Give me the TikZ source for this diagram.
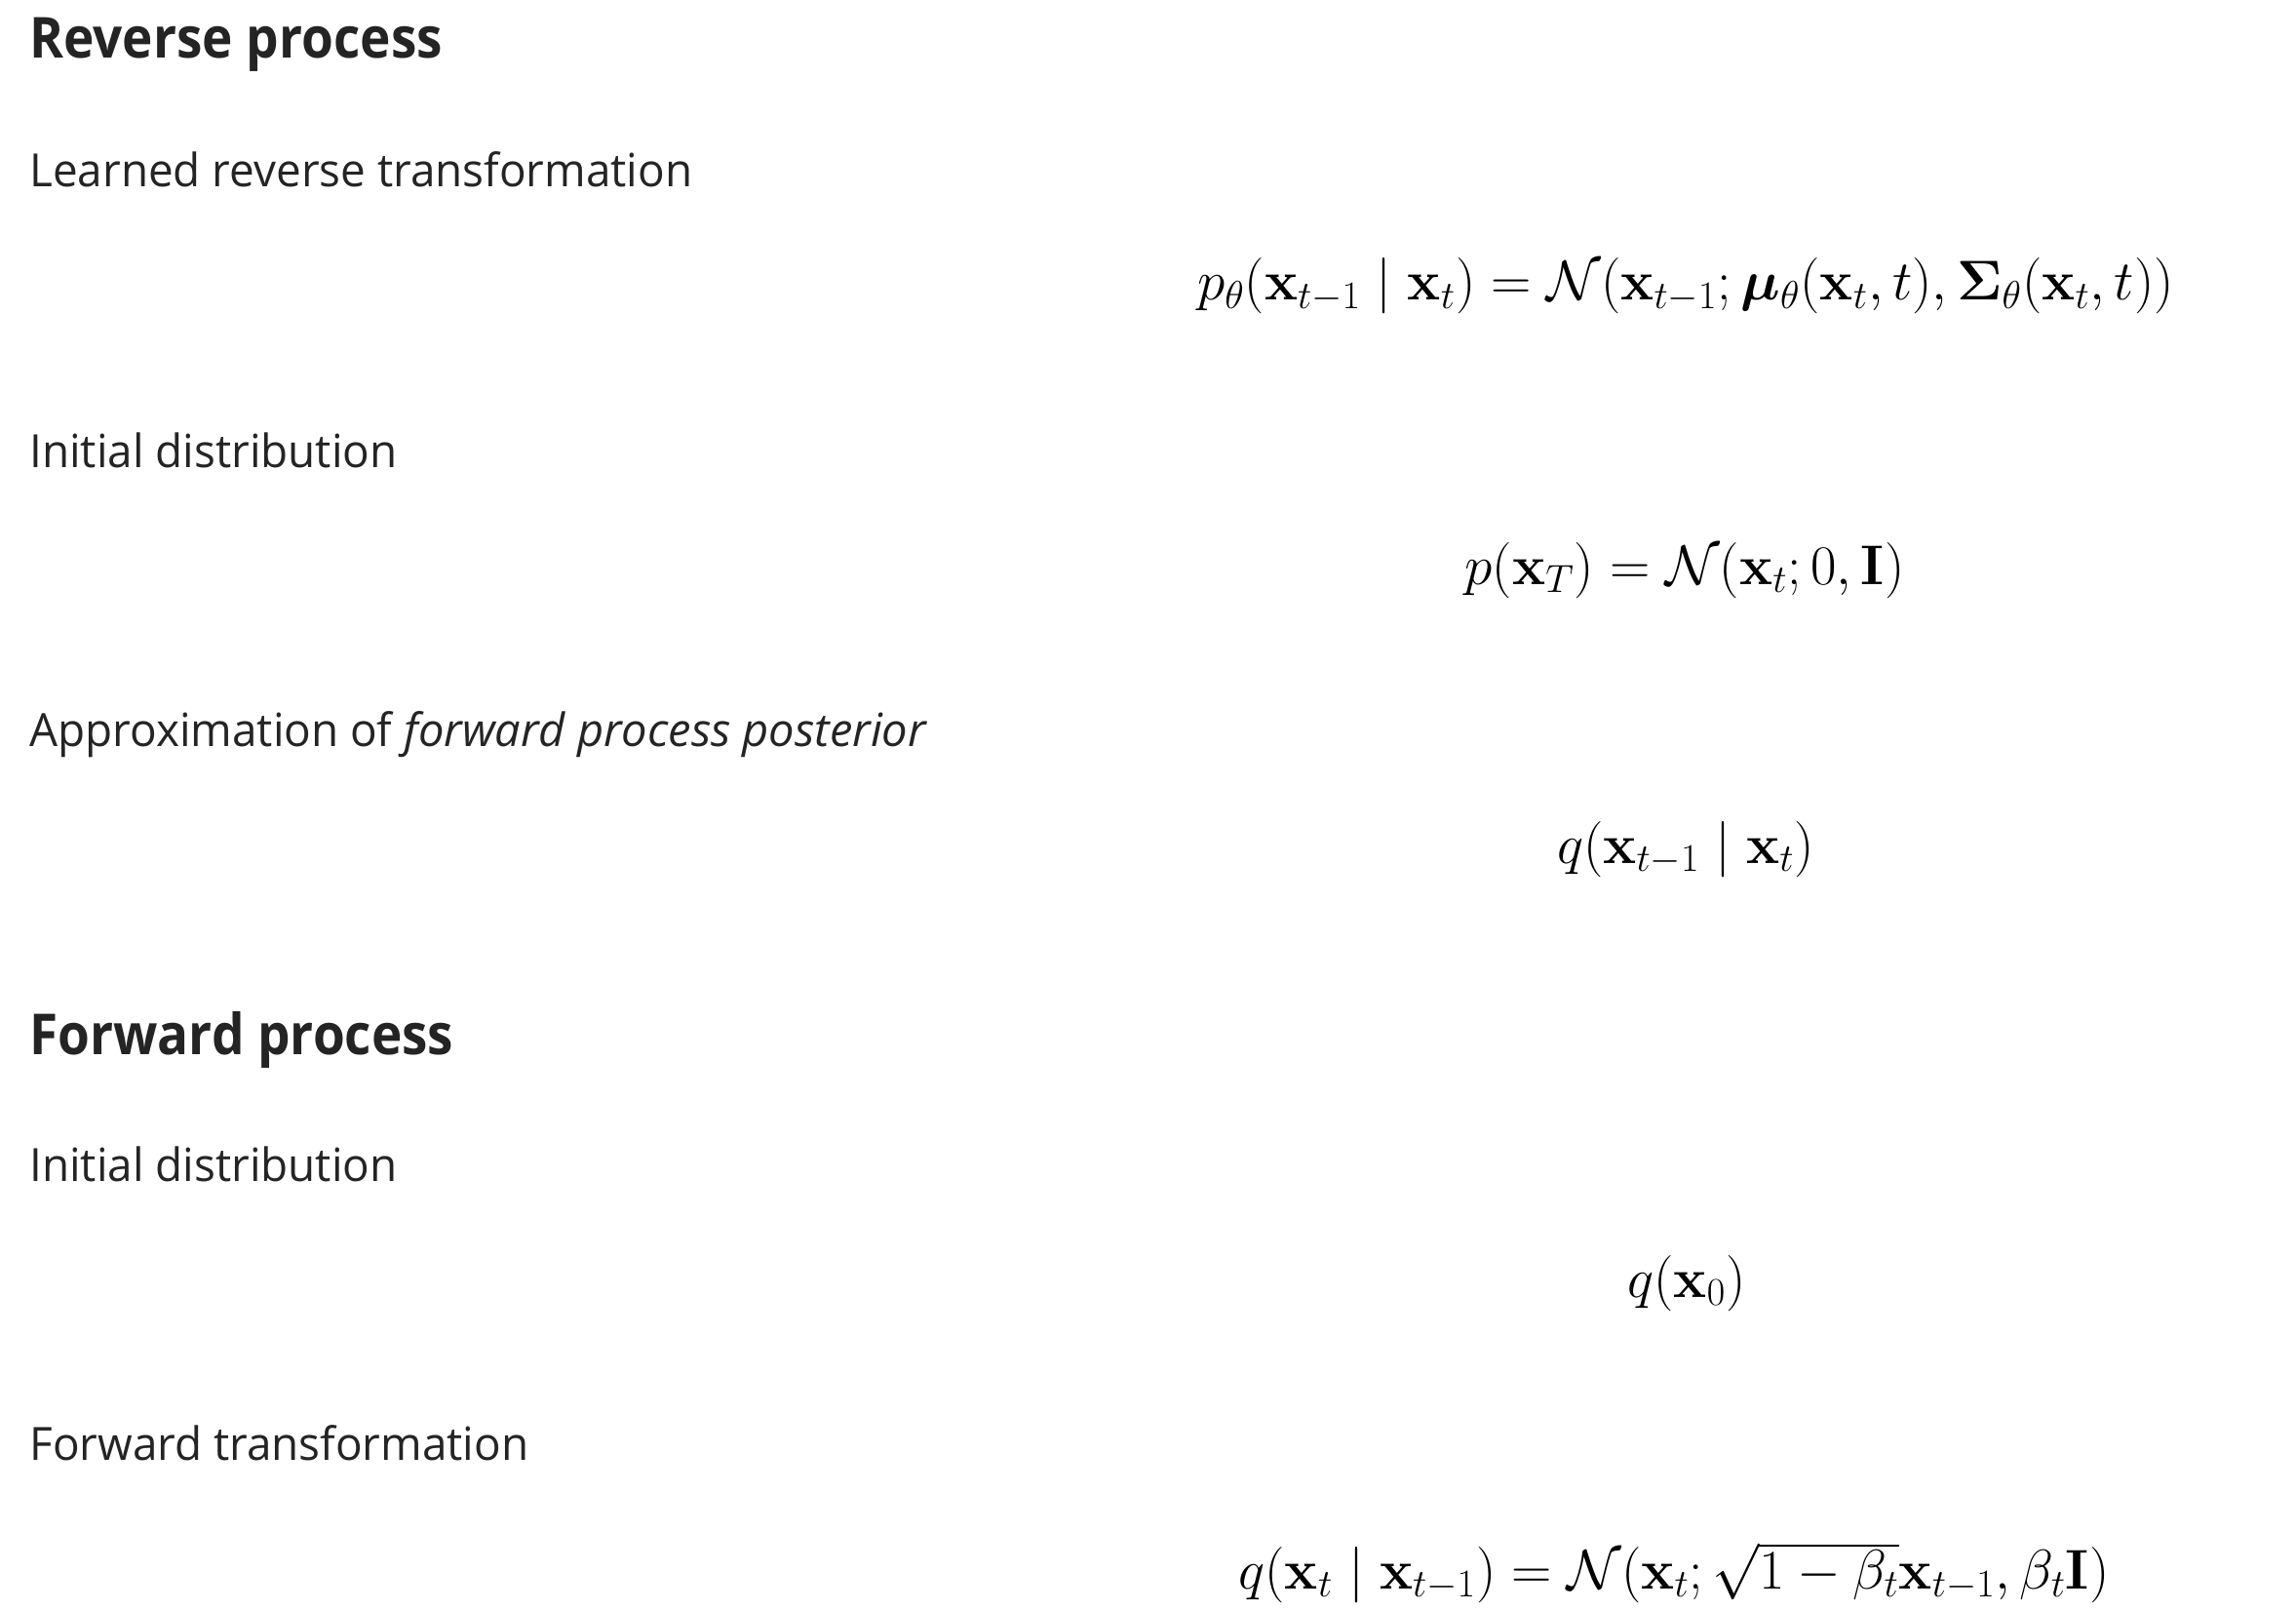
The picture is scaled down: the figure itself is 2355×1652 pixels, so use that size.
\RequirePackage{fix-cm}
\documentclass[tikz,border=0pt]{standalone}
\usepackage[no-math]{fontspec}
\setmainfont[FakeStretch=0.975,ItalicFeatures={FakeStretch=1.0}]{Open Sans}
\newfontfamily\headfont[FakeStretch=0.915]{Open Sans}
\usepackage{amsmath,bm}
\definecolor{txtcol}{RGB}{36,36,36}
\begin{document}
\begin{tikzpicture}[x=0.5pt,y=-0.5pt,
  heading/.style={anchor=base west,inner sep=0pt,text=txtcol,font=\headfont\fontsize{29}{35}\selectfont\bfseries},
  body/.style={anchor=base west,inner sep=0pt,text=txtcol,font=\fontsize{23.5}{28}\selectfont},
  eqn/.style={anchor=base,inner sep=0pt,text=black,font=\fontsize{28.7}{34}\selectfont}]
\fill[white] (0,0) rectangle (2355,1652);
\useasboundingbox (0,0) rectangle (2355,1652);
\node[heading] (h1) at (30,60) {Reverse process};
\node[body] (t1) at (30,192) {Learned reverse transformation};
\node[eqn] (e1) at (1729,308) {$p_\theta(\mathbf{x}_{t-1}\mid\mathbf{x}_t)=\mathcal{N}(\mathbf{x}_{t-1};\bm{\mu}_\theta(\mathbf{x}_t,t),\bm{\Sigma}_\theta(\mathbf{x}_t,t))$};
\node[body] (t2) at (30,480) {Initial distribution};
\node[eqn] (e2) at (1728,599) {$p(\mathbf{x}_T)=\mathcal{N}(\mathbf{x}_t;0,\mathbf{I})$};
\node[body] (t3) at (30,765) {Approximation of \textit{forward process posterior}};
\node[eqn] (e3) at (1729,885) {$q(\mathbf{x}_{t-1}\mid\mathbf{x}_t)$};
\node[heading] (h2) at (30,1081) {Forward process};
\node[body] (t4) at (30,1211) {Initial distribution};
\node[eqn] (e4) at (1730,1330) {$q(\mathbf{x}_0)$};
\node[body] (t5) at (30,1497) {Forward transformation};
\node[eqn] (e5) at (1717,1629) {$q(\mathbf{x}_t\mid\mathbf{x}_{t-1})=\mathcal{N}(\mathbf{x}_t;\sqrt{1-\beta_t}\mathbf{x}_{t-1},\beta_t\mathbf{I})$};
\end{tikzpicture}
\end{document}
